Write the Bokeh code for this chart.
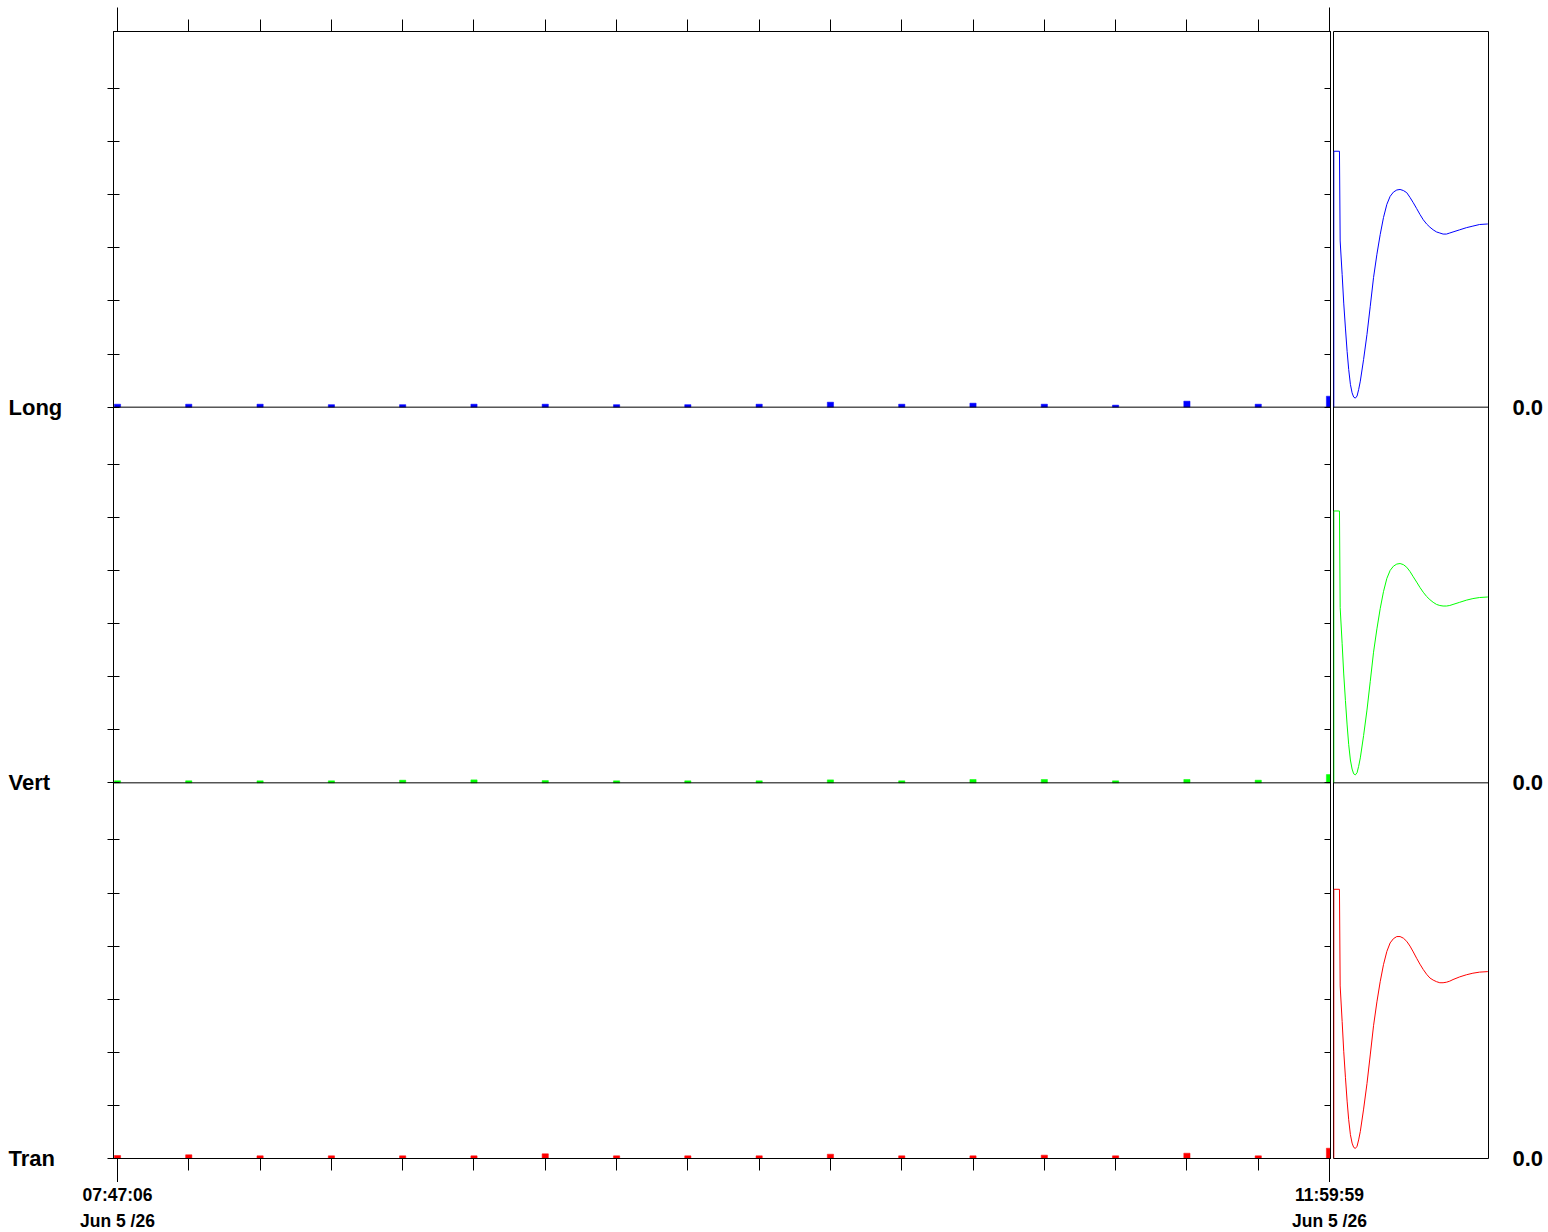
from bokeh.plotting import figure
from bokeh.layouts import row, column
from bokeh.models import Range1d, FixedTicker, LinearAxis, Span
from bokeh.core.properties import value
from bokeh.embed import file_html
from bokeh.resources import INLINE

# ---------------- data ----------------
sample_times = ["07:47:06", "08:01:58", "08:16:51", "08:31:44", "08:46:36", "09:01:29",
                "09:16:21", "09:31:14", "09:46:06", "10:00:59", "10:15:51", "10:30:44",
                "10:45:36", "11:00:29", "11:15:21", "11:30:14", "11:45:07", "11:59:59"]
time_line1 = ["07:47:06", "11:59:59"]
time_line2 = ["Jun 5 /26", "Jun 5 /26"]
channels = ["Long", "Vert", "Tran"]
zero_label = "0.0"

long_peaks = [0.56, 0.56, 0.56, 0.47, 0.47, 0.56, 0.56, 0.47, 0.47, 0.56, 0.94, 0.56, 0.75, 0.56, 0.38, 1.13, 0.56, 2.07]
vert_peaks = [0.38, 0.38, 0.38, 0.38, 0.50, 0.56, 0.43, 0.38, 0.38, 0.38, 0.56, 0.38, 0.63, 0.63, 0.38, 0.63, 0.50, 1.56]
tran_peaks = [0.56, 0.70, 0.50, 0.50, 0.50, 0.50, 0.88, 0.50, 0.50, 0.50, 0.81, 0.50, 0.50, 0.63, 0.50, 1.00, 0.50, 1.94]

wave_t = [0.3, 0.3, 6.0, 6.7, 8.7, 10.3, 12.0, 13.7, 15.3, 17.0, 18.7, 20.3, 22.0, 23.7, 25.3, 27.0,
          30.3, 33.7, 37.0, 40.3, 43.7, 47.0, 50.3, 53.7, 57.0, 60.3, 63.7, 67.0, 70.3, 73.7, 77.0,
          80.3, 83.7, 87.0, 90.3, 93.7, 97.0, 100.3, 103.7, 107.0, 110.3, 113.7, 117.0, 120.3,
          127.0, 133.7, 140.3, 147.0, 155.3]
long_wave = [0, 48.2, 48.2, 31.3, 25.0, 19.6, 14.9, 10.5, 7.1, 4.3, 2.7, 1.9, 1.7, 2.1, 3.3, 4.9,
             9.0, 13.7, 19.0, 24.4, 28.8, 32.5, 35.7, 38.2, 39.7, 40.5, 40.9, 41.0, 40.8, 40.4, 39.5,
             38.5, 37.4, 36.3, 35.3, 34.5, 33.9, 33.4, 33.0, 32.8, 32.6, 32.6, 32.8, 33.0,
             33.4, 33.8, 34.1, 34.4, 34.5]
vert_wave = [0, 51.2, 51.2, 33.0, 26.2, 20.5, 15.5, 10.9, 7.2, 4.3, 2.6, 1.7, 1.5, 1.9, 3.1, 4.7,
             8.9, 13.7, 19.1, 24.6, 29.0, 32.8, 36.0, 38.5, 40.0, 40.8, 41.2, 41.3, 41.1, 40.6, 39.8,
             38.8, 37.8, 36.8, 35.9, 35.1, 34.5, 34.0, 33.6, 33.4, 33.3, 33.3, 33.4, 33.6,
             34.0, 34.4, 34.7, 34.9, 35.0]
tran_wave = [0, 50.7, 50.7, 32.5, 25.8, 20.2, 15.3, 10.8, 7.3, 4.5, 2.9, 2.1, 1.9, 2.3, 3.5, 5.1,
             9.3, 14.1, 19.5, 25.0, 29.5, 33.3, 36.5, 39.0, 40.6, 41.4, 41.8, 41.8, 41.5, 40.9, 40.0,
             38.9, 37.7, 36.6, 35.6, 34.7, 34.0, 33.6, 33.3, 33.1, 33.1, 33.2, 33.4, 33.7,
             34.2, 34.6, 34.9, 35.1, 35.2]

colors = ["#0000ff", "#00ff00", "#ff0000"]
peaks = [long_peaks, vert_peaks, tran_peaks]
waves = [long_wave, vert_wave, tran_wave]

# ---------------- layout constants ----------------
FONT = "Liberation Sans"
SEC = 70.75                      # height of one channel band (10 units per tick)
offsets = [2 * SEC, SEC, 0.0]    # Long, Vert, Tran baselines
BAND_TICKS = [0, 10, 20, 30, 40, 50, 60]
FRAME_H = 1127
FRAME_W1 = 1217
FRAME_W2 = 156
LABEL_W = 105
TOTAL_W = 1546
BTOP, BBOT = 31, 24
ROW_H = BTOP + FRAME_H + BBOT    # 1182
STRIP_H = 50


def to_sec(s):
    h, m, x = s.split(":")
    return int(h) * 3600 + int(m) * 60 + int(x)


tsec = [to_sec(s) for s in sample_times]
spp = (tsec[-1] - tsec[0]) / 1212.0
x0 = tsec[0] - 4 * spp
x1 = x0 + FRAME_W1 * spp

yr = Range1d(0, 3 * SEC)
yticks = sorted(set(o + t for o in offsets for t in BAND_TICKS))


def clean(p):
    p.grid.visible = False
    p.background_fill_color = "white"
    p.border_fill_color = "white"


def silent_labels(ax):
    ax.major_label_text_font_size = "0px"
    ax.major_label_text_color = None
    ax.major_label_standoff = 0


def bold_labels(ax, size, standoff):
    ax.major_tick_in = 0
    ax.major_tick_out = 0
    ax.minor_tick_line_color = None
    ax.axis_line_color = None
    ax.major_label_standoff = standoff
    ax.major_label_text_font = FONT
    ax.major_label_text_font_size = size
    ax.major_label_text_font_style = "bold"
    ax.major_label_text_color = "black"


# ---------------- channel-name strip ----------------
pl = figure(width=LABEL_W, height=ROW_H, x_range=Range1d(0, 1), y_range=yr,
            output_backend="svg", toolbar_location=None, tools="",
            x_axis_location=None, y_axis_location="right",
            min_border_left=0, min_border_right=LABEL_W - 4,
            min_border_top=BTOP, min_border_bottom=BBOT)
clean(pl)
pl.outline_line_color = None
for ax in pl.yaxis:
    ax.ticker = FixedTicker(ticks=offsets, minor_ticks=[])
    ax.major_label_overrides = {o: n for o, n in zip(offsets, channels)}
    bold_labels(ax, "22px", 4)

# ---------------- left (history) panel ----------------
p1 = figure(width=8 + FRAME_W1 + 2, height=ROW_H, x_range=Range1d(x0, x1), y_range=yr,
            output_backend="svg", toolbar_location=None, tools="",
            min_border_left=8, min_border_right=2, min_border_top=BTOP, min_border_bottom=BBOT)
clean(p1)
p1.outline_line_color = "black"
p1.outline_line_alpha = 1.0

xt = FixedTicker(ticks=[tsec[0], tsec[-1]], minor_ticks=tsec[1:-1])
for ax in p1.xaxis:
    ax.ticker = xt
    ax.major_tick_out = 24
    ax.major_tick_in = 0
    ax.minor_tick_out = 12
    ax.minor_tick_in = 0
    silent_labels(ax)
    ax.axis_line_color = "black"
    ax.major_tick_line_color = "black"
    ax.minor_tick_line_color = "black"

top = LinearAxis(ticker=xt, major_tick_out=24, major_tick_in=0, minor_tick_out=12, minor_tick_in=0,
                 axis_line_color="black", major_tick_line_color="black", minor_tick_line_color="black")
silent_labels(top)
p1.add_layout(top, "above")

yt = FixedTicker(ticks=yticks, minor_ticks=[])
for ax in p1.yaxis:
    ax.ticker = yt
    ax.major_tick_in = 6
    ax.major_tick_out = 6
    ax.minor_tick_line_color = None
    silent_labels(ax)
    ax.axis_line_color = "black"
    ax.major_tick_line_color = "black"

rax = LinearAxis(ticker=yt, major_tick_in=6, major_tick_out=0, minor_tick_line_color=None,
                 axis_line_color="black", major_tick_line_color="black")
silent_labels(rax)
p1.add_layout(rax, "right")

for off in offsets[:2]:
    p1.add_layout(Span(location=off, dimension="width", line_color="black", line_width=1))

for off, vals, col in zip(offsets, peaks, colors):
    p1.vbar(x=tsec, width=78, bottom=off, top=[off + v for v in vals],
            fill_color=col, line_color=col, line_width=0.5)

# ---------------- right (waveform) panel ----------------
W2 = TOTAL_W - LABEL_W - (8 + FRAME_W1 + 2)
p2 = figure(width=W2, height=ROW_H, x_range=Range1d(0, FRAME_W2), y_range=yr,
            output_backend="svg", toolbar_location=None, tools="",
            x_axis_location=None, y_axis_location="right",
            min_border_left=1, min_border_top=BTOP, min_border_bottom=BBOT,
            min_border_right=W2 - 1 - FRAME_W2)
clean(p2)
p2.outline_line_color = "black"
p2.outline_line_alpha = 1.0
for ax in p2.yaxis:
    ax.ticker = FixedTicker(ticks=offsets, minor_ticks=[])
    ax.major_label_overrides = {o: zero_label for o in offsets}
    bold_labels(ax, "22px", 24)

for off in offsets[:2]:
    p2.add_layout(Span(location=off, dimension="width", line_color="black", line_width=1))

for off, w, col in zip(offsets, waves, colors):
    p2.line(x=wave_t, y=[off + v for v in w], line_color=col, line_width=1)

# ---------------- time-label strip ----------------
sx0 = x0 - (LABEL_W + 8) * spp
pt = figure(width=TOTAL_W, height=STRIP_H, x_range=Range1d(sx0, sx0 + TOTAL_W * spp),
            y_range=Range1d(0, STRIP_H),
            output_backend="svg", toolbar_location=None, tools="",
            x_axis_location=None, y_axis_location=None, min_border=0)
clean(pt)
pt.outline_line_color = None
label_x = [tsec[0], tsec[-1]]
pt.text(x=label_x, y=[STRIP_H - 12] * 2, text=time_line1, text_font=value(FONT),
        text_font_size=value("17.5px"), text_font_style="bold", text_color="black",
        text_align="center", text_baseline="middle")
pt.text(x=label_x, y=[STRIP_H - 38] * 2, text=time_line2, text_font=value(FONT),
        text_font_size=value("17.5px"), text_font_style="bold", text_color="black",
        text_align="center", text_baseline="middle")

layout = column(row(pl, p1, p2), pt)
open("out.html", "w").write(file_html(layout, INLINE))
